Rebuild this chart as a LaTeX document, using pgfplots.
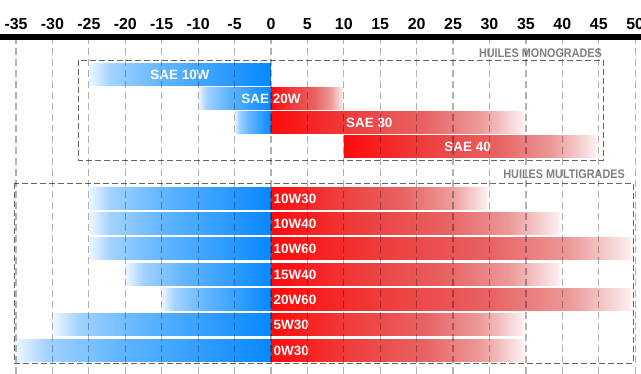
\documentclass[border=0pt]{standalone}
\usepackage{pgfplots}
\pgfplotsset{compat=1.18}
\usepackage{fontspec}
\setmainfont{Liberation Sans}
\definecolor{bA}{HTML}{EEF7FF}
\definecolor{bB}{HTML}{A2D2FF}
\definecolor{bC}{HTML}{62B6FF}
\definecolor{bD}{HTML}{0788FF}
\definecolor{rA}{HTML}{FF0A0A}
\definecolor{rB}{HTML}{EE3C3C}
\definecolor{rC}{HTML}{E86262}
\definecolor{rD}{HTML}{EC9A9A}
\definecolor{rE}{HTML}{FBEAEA}
\pgfdeclarehorizontalshading{blueshade}{100bp}{color(0bp)=(bA); color(25bp)=(bA); color(31bp)=(bB); color(45bp)=(bC); color(75bp)=(bD); color(100bp)=(bD)}
\pgfdeclarehorizontalshading{redshade}{100bp}{color(0bp)=(rA); color(25bp)=(rA); color(40bp)=(rB); color(55bp)=(rC); color(66bp)=(rD); color(74bp)=(rE); color(75bp)=(white); color(100bp)=(white)}
\newcommand{\bluebar}[3]{\addplot[draw=none, shading=blueshade] coordinates {(#1,#2) (0,#2) (0,#3) (#1,#3)} -- cycle;}
\newcommand{\redbar}[4]{\addplot[draw=none, shading=redshade] coordinates {(#1,#3) (#2,#3) (#2,#4) (#1,#4)} -- cycle;}
\begin{document}
\begin{tikzpicture}
\begin{axis}[
  scale only axis, width=641bp, height=337bp,
  xmin=-37.2, xmax=50.8, ymin=-374, ymax=-37,
  axis x line*=top, axis y line=none,
  x axis line style={line width=6bp, black},
  xtick={-35,-30,...,50},
  xticklabels={-35,-30,-25,-20,-15,-10,-5,0,5,10,15,20,25,30,35,40,45,50},
  xticklabel style={font=\bfseries\fontsize{16}{16}\selectfont, anchor=base, yshift=7bp, inner sep=0pt},
  major tick length=0pt,
  ytick=\empty,
  xmajorgrids,
  grid style={dash pattern=on 7bp off 4bp, black, opacity=0.3, line width=1.2bp},
  axis on top,
  no markers,
]
% Huiles monogrades
\bluebar{-25}{-64}{-86}
\bluebar{-10}{-88}{-110}
\redbar{0}{10}{-88}{-110}
\bluebar{-5}{-112}{-134}
\redbar{0}{35}{-112}{-134}
\redbar{10}{45}{-136}{-158}
% Huiles multigrades
\bluebar{-25}{-188}{-210}
\redbar{0}{30}{-188}{-210}
\bluebar{-25}{-213}{-235}
\redbar{0}{40}{-213}{-235}
\bluebar{-25}{-238}{-260}
\redbar{0}{50}{-238}{-260}
\bluebar{-20}{-264}{-286}
\redbar{0}{40}{-264}{-286}
\bluebar{-15}{-289}{-311}
\redbar{0}{50}{-289}{-311}
\bluebar{-30}{-314}{-336}
\redbar{0}{35}{-314}{-336}
\bluebar{-35}{-340}{-362}
\redbar{0}{35}{-340}{-362}
% frames
\draw[dash pattern=on 6bp off 3bp, black!60, line width=0.9bp] (axis cs:-26.45,-60) rectangle (axis cs:45.6,-160.5);
\draw[dash pattern=on 6bp off 3bp, black!60, line width=0.9bp] (axis cs:-35.24,-183) rectangle (axis cs:49.7,-363);
\node[anchor=base east, inner sep=0pt, text=black!50, font=\bfseries\fontsize{12.5}{12.5}\selectfont, xscale=0.87] at (axis cs:45.45,-58) {HUILES MONOGRADES};
\node[anchor=base east, inner sep=0pt, text=black!50, font=\bfseries\fontsize{12.5}{12.5}\selectfont, xscale=0.87] at (axis cs:48.6,-179) {HUILES MULTIGRADES};
% bar labels
\tikzset{lab/.style={text=white, font=\bfseries\fontsize{13.5}{13.5}\selectfont, inner sep=0pt}}
\node[lab] at (axis cs:-12.5,-75) {SAE 10W};
\node[lab] at (axis cs:0,-99) {SAE 20W};
\node[lab] at (axis cs:13.5,-123) {SAE 30};
\node[lab] at (axis cs:27,-147) {SAE 40};
\node[lab, anchor=west] at (axis cs:0.35,-199) {10W30};
\node[lab, anchor=west] at (axis cs:0.35,-224) {10W40};
\node[lab, anchor=west] at (axis cs:0.35,-249) {10W60};
\node[lab, anchor=west] at (axis cs:0.35,-275) {15W40};
\node[lab, anchor=west] at (axis cs:0.35,-300) {20W60};
\node[lab, anchor=west] at (axis cs:0.35,-325) {5W30};
\node[lab, anchor=west] at (axis cs:0.35,-351) {0W30};
\coordinate (BL) at (axis cs:-37.2,-374);
\coordinate (TR) at (axis cs:50.8,0);
\end{axis}
\pgfresetboundingbox
\path (BL) rectangle (TR);
\end{tikzpicture}
\end{document}
